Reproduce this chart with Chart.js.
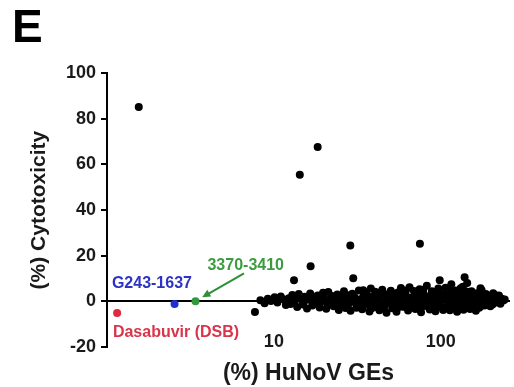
<!DOCTYPE html>
<html>
<head>
<meta charset="utf-8">
<script src="https://cdn.jsdelivr.net/npm/chart.js@4/dist/chart.umd.min.js"></script>
<style>
  html, body { margin: 0; padding: 0; background: #fff; }
  #wrap { width: 514px; height: 387px; position: relative; }
</style>
</head>
<body>
<div id="wrap"><canvas id="cytoChart"></canvas></div>
<script>
// 스크리닝 화합물 (검은 점) - x: HuNoV GEs (%), y: 세포독성 (%)
const screenX = [
  8.3, 8.8, 9.2, 9.6, 10.1, 10.5, 11.0, 11.4, 11.8, 12.3,
  12.6, 12.9, 13.4, 13.8, 14.1, 14.6, 15.0, 15.3, 15.8, 16.2, 16.5, 17.0, 17.4, 17.9, 18.3, 18.8, 19.2, 19.7,
  20.1, 20.6, 21.2, 21.7, 22.3, 22.8, 23.4, 24.0, 24.5, 25.1, 25.7, 26.3, 26.9, 27.5, 28.2, 28.8, 29.5, 30.2, 30.9, 31.6, 32.3, 33.1, 33.8, 34.6,
  35.2, 35.9, 36.6, 37.4, 38.1, 38.9, 39.6, 40.4, 41.2, 42.0, 42.9, 43.7, 44.6, 45.5, 46.4, 47.3, 48.3, 49.2, 50.2, 51.2, 52.2, 53.3, 54.3, 55.4, 56.5, 57.7, 58.8,
  60.0, 61.2, 62.4, 63.7, 65.0, 66.3, 67.6, 69.0, 70.4, 71.8, 73.2, 74.7, 76.2, 77.7, 79.3, 80.9, 82.5, 84.2, 85.9, 87.6, 89.4, 91.1, 93.0, 94.8, 96.7, 98.7, 100.7, 102.7, 104.7, 106.8, 109.0,
  111.2, 113.4, 115.7, 118.0, 120.4, 122.8, 125.3, 127.8, 130.4, 133.0, 135.7, 138.4, 141.2, 144.0, 146.9, 149.9, 152.9, 156.0, 159.1, 162.3, 165.6, 168.9, 172.3, 175.8, 179.3,
  182.9, 186.6, 190.3, 194.2, 198.1, 202.1, 206.1, 210.3, 214.5, 218.8, 223.2, 227.7, 232.3, 237.0, 241.8,
  13.1, 14.9, 16.8, 18.6, 21.0, 23.1, 25.4, 27.8, 30.5, 33.4, 36.2, 39.3, 42.5, 45.9, 49.7, 53.8, 58.1, 62.9, 68.1, 73.9, 79.9, 86.6, 93.7, 101.6, 110.1, 119.2, 129.1, 139.8, 151.4, 163.9, 177.5, 192.2,
  19.0, 22.0, 26.0, 29.0, 32.0, 37.0, 41.0, 44.0, 48.0, 52.0, 56.0, 64.0, 70.0, 77.0, 84.0, 92.0, 99.0, 105.0, 114.0, 124.0, 134.0, 145.0, 155.0, 170.0,
  24.7, 27.1, 31.2, 34.0, 38.5, 40.8, 43.2, 47.8, 51.7, 55.0, 59.4, 61.8, 66.8, 71.1, 75.5, 78.5, 83.3, 88.5, 90.2, 95.7,
  103.5, 107.9, 112.3, 117.0, 121.6, 126.5, 131.7, 137.0, 142.6, 148.3, 154.4, 160.7, 167.2, 174.0, 181.1, 188.4, 196.1, 204.1, 212.4, 221.0
];
const screenY = [
  0.5, -0.8, 1.2, 0.2, 1.8, -0.5, 2.1, 0.9, -1.6, 1.4,
  -1.2, 2.8, 0.4, -2.5, 3.2, 1.1, -0.9, 2.0, -3.1, 0.7, 3.5, -1.8, 1.6, -0.4, 2.6, -2.7, 0.9, 3.8,
  1.3, -3.2, 4.1, -0.6, 2.4, -2.1, 0.2, 3.0, -3.8, 1.7, -1.0, 4.4, -2.9, 0.6, 2.2, -4.1, 3.3, -0.3, 1.0, -2.4, 4.8, 0.4, -3.5, 2.7,
  -1.5, 3.6, 0.8, -4.4, 5.6, 1.9, -2.6, 4.2, -0.8, 2.9, -3.9, 0.3, 5.1, -1.9, 3.1, -5.0, 1.4, -0.2, 4.6, -3.0, 2.0, 0.6, -4.6, 3.9, -1.2, 5.9, 1.1,
  -2.2, 3.4, 0.1, -4.0, 6.2, 1.6, -1.4, 4.5, -3.3, 2.4, -0.6, 5.3, -4.8, 1.0, 3.0, -2.0, 6.8, 0.3, -3.6, 2.7, -1.1, 4.0, -4.3, 1.8, 5.6, -0.3, 3.2, -2.8, 0.9, 6.0, -1.7,
  2.5, -3.9, 7.5, 0.4, -1.9, 4.8, -4.5, 1.5, 3.7, -0.9, 6.4, -2.6, 0.0, 8.0, 2.1, -3.4, 4.4, -1.3, 1.2, -4.1, 3.6, 0.6, -2.2, 4.9, 1.9,
  -1.8, 3.2, 0.2, 2.4, -2.1, 1.3, 3.6, -0.6, 1.9, 0.1, 2.6, -1.0, 1.1, 0.4, 0.8,
  0.9, -1.4, 2.3, 0.1, -1.1, 2.0, 0.5, -1.7, 1.8, -0.9, 2.4, 0.0, 1.2, -2.3, 2.6, -1.6, 0.7, 1.9, -2.5, 3.1, -0.4, 1.4, -1.8, 2.2, 0.3, 1.0, -2.0, 2.9, -0.7, 1.6, -0.2, 0.9,
  -0.5, 0.8, -0.2, 1.1, 0.3, -0.7, 1.6, -1.2, 0.6, -0.4, 2.1, -0.9, 0.5, -1.5, 1.3, 0.2, -2.4, 1.8, -0.6, 0.9, 2.2, -1.1, 0.4, -2.8,
  -1.6, 2.9, -2.8, 1.5, -3.0, 1.0, 3.8, -0.9, 3.5, -2.9, -2.4, 4.8, -0.1, 3.6, -1.9, 5.1, -0.8, 4.4, -3.1, 0.8,
  -3.8, 2.9, 5.2, -2.6, 3.1, -0.2, 5.8, -3.7, 4.3, 0.9, -2.3, 3.2, -1.2, 2.4, 1.0, -0.8, 1.7, -1.4, 2.7, -0.3
];

// 독성이 높거나 떨어져 있는 점
const outlierX = [1.55, 18.3, 14.3, 75, 28.7, 16.6, 13.2, 29.9, 34.3, 139, 98.6, 173, 7.7];
const outlierY = [85.2, 67.7, 55.5, 25.2, 24.5, 15.4, 9.3, 10.1, 4.9, 10.6, 9.3, 5.8, -4.7];

// 표시된 화합물
const dsbPoint = { x: 1.15, y: -5.1 };     // Dasabuvir (DSB)
const g243Point = { x: 2.54, y: -1.2 };    // G243-1637
const cmp3370Point = { x: 3.39, y: 0 };    // 3370-3410

// 축 눈금
const yTicks = [-20, 0, 20, 40, 60, 80, 100];
const xTickLabels = [10, 100];

const FONT = '"Liberation Sans", Arial, sans-serif';
const TEXT = '#1a1a1a';

function toPoints(xs, ys) {
    return xs.map((x, i) => ({ x: x, y: ys[i] }));
}

// 라벨과 화살표 (데이터 좌표 기준)
const annotationPlugin = {
    id: 'labels',
    afterDatasetsDraw(chart) {
        const { ctx, scales: { x, y } } = chart;
        ctx.save();
        ctx.font = 'bold 16px ' + FONT;
        ctx.textBaseline = 'middle';
        ctx.textAlign = 'left';

        ctx.fillStyle = '#2d33c4';
        ctx.fillText('G243-1637', x.getPixelForValue(1.07), y.getPixelForValue(7.9));
        ctx.fillStyle = '#d8344a';
        ctx.fillText('Dasabuvir (DSB)', x.getPixelForValue(1.085), y.getPixelForValue(-13.9));
        ctx.fillStyle = '#3a9c3f';
        ctx.fillText('3370-3410', x.getPixelForValue(4.0), y.getPixelForValue(15.8));

        // 녹색 화살표
        const x1 = x.getPixelForValue(6.62), y1 = y.getPixelForValue(12.3);
        const x2 = x.getPixelForValue(3.72), y2 = y.getPixelForValue(1.8);
        const ang = Math.atan2(y2 - y1, x2 - x1);
        ctx.strokeStyle = '#2f8f35';
        ctx.fillStyle = '#2f8f35';
        ctx.lineWidth = 2;
        ctx.beginPath();
        ctx.moveTo(x1, y1);
        ctx.lineTo(x2 - 6 * Math.cos(ang), y2 - 6 * Math.sin(ang));
        ctx.stroke();
        ctx.beginPath();
        ctx.moveTo(x2, y2);
        ctx.lineTo(x2 - 9 * Math.cos(ang - 0.45), y2 - 9 * Math.sin(ang - 0.45));
        ctx.lineTo(x2 - 9 * Math.cos(ang + 0.45), y2 - 9 * Math.sin(ang + 0.45));
        ctx.closePath();
        ctx.fill();
        ctx.restore();
    }
};

const ctx = document.getElementById('cytoChart');

new Chart(ctx, {
    type: 'scatter',
    data: {
        datasets: [
            {
                label: 'screen',
                data: toPoints(screenX, screenY).concat(toPoints(outlierX, outlierY)),
                backgroundColor: '#000',
                borderColor: '#000',
                pointRadius: 4,
                pointBorderWidth: 0
            },
            {
                label: 'DSB',
                data: [dsbPoint],
                backgroundColor: '#e0283e',
                pointRadius: 4,
                pointBorderWidth: 0
            },
            {
                label: 'G243-1637',
                data: [g243Point],
                backgroundColor: '#1f2fd6',
                pointRadius: 4,
                pointBorderWidth: 0
            },
            {
                label: '3370-3410',
                data: [cmp3370Point],
                backgroundColor: '#2e9a3a',
                pointRadius: 4,
                pointBorderWidth: 0
            }
        ]
    },
    options: {
        responsive: true,
        maintainAspectRatio: false,
        animation: false,
        layout: { padding: { left: 12, right: 2, top: 0, bottom: 0 } },
        plugins: {
            legend: { display: false },
            tooltip: { enabled: false },
            title: {
                display: true,
                text: 'E',
                align: 'start',
                color: '#000',
                font: { family: FONT, size: 46, weight: 'bold' },
                padding: { top: 2, bottom: 16 }
            }
        },
        scales: {
            x: {
                type: 'logarithmic',
                min: 1,
                max: 260,
                border: { display: false },
                grid: { display: false, drawTicks: false },
                ticks: {
                    autoSkip: false,
                    maxRotation: 0,
                    mirror: true,
                    padding: -6,
                    color: TEXT,
                    font: { family: FONT, size: 18, weight: 'bold' },
                    callback: function(value) {
                        return xTickLabels.includes(value) ? String(value) : '';
                    }
                },
                title: {
                    display: true,
                    text: '(%) HuNoV GEs',
                    color: TEXT,
                    font: { family: FONT, size: 23, weight: 'bold' },
                    padding: { top: 0, bottom: 0 }
                },
                afterFit: function(scale) {
                    scale.height = 40;
                    scale.paddingLeft = 0;
                    scale.paddingRight = 0;
                }
            },
            y: {
                min: -20,
                max: 100,
                afterBuildTicks: function(scale) {
                    scale.ticks = yTicks.map(v => ({ value: v }));
                },
                border: { display: true, color: '#000', width: 2 },
                grid: {
                    color: c => (c.tick && c.tick.value === 0) ? '#000' : 'rgba(0,0,0,0)',
                    lineWidth: 2,
                    tickColor: '#000',
                    tickLength: 6,
                    drawTicks: true
                },
                ticks: {
                    padding: 5,
                    color: TEXT,
                    font: { family: FONT, size: 18, weight: 'bold' }
                },
                title: {
                    display: true,
                    text: '(%) Cytotoxicity',
                    color: TEXT,
                    font: { family: FONT, size: 21, weight: 'bold' },
                    padding: { top: 15, bottom: 0 }
                },
                afterFit: function(scale) { scale.width = 95; }
            }
        }
    },
    plugins: [annotationPlugin]
});
</script>
</body>
</html>
